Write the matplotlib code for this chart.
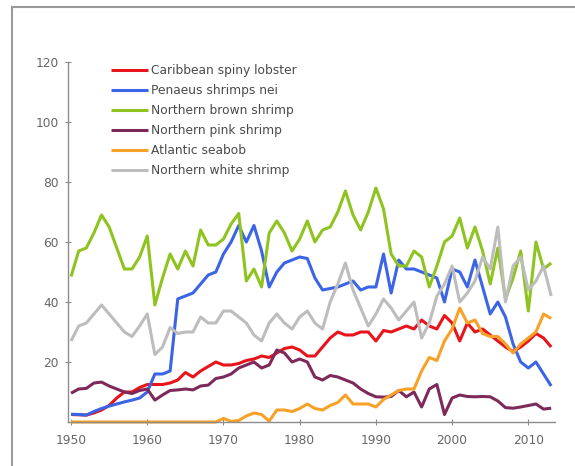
import matplotlib
matplotlib.use("Agg")
import matplotlib.pyplot as plt
from matplotlib.lines import Line2D

years = list(range(1950, 2014))

series_names = ["Caribbean spiny lobster", "Penaeus shrimps nei", "Northern brown shrimp",
                "Northern pink shrimp", "Atlantic seabob", "Northern white shrimp"]

caribbean_spiny_lobster = [
    2.5, 2.4, 2.3, 3, 4, 5.5, 8, 10, 10, 11.5,
    12.5, 12.5, 12.5, 13, 14, 16.5, 15, 17, 18.5, 20,
    19, 19, 19.5, 20.5, 21, 22, 21.5, 23, 24.5, 25,
    24, 22, 22, 25, 28, 30, 29, 29, 30, 30,
    27, 30.5, 30, 31, 32, 31, 34, 32, 31, 35.5,
    33, 27, 33, 30, 31, 29, 27, 25, 23.5, 25,
    27, 29.5, 28, 25]

penaeus_shrimps_nei = [
    2.6, 2.5, 2.3, 3.5, 4.5, 5.3, 6, 6.7, 7.3, 8,
    10, 16, 16, 17, 41, 42, 43, 46, 49, 50,
    56, 60, 65.5, 60, 65.5, 57, 45, 50, 53, 54,
    55, 54.5, 48, 44, 44.5, 45, 46, 47, 44, 45,
    45, 56, 43, 54, 51, 51, 50, 49, 48, 40,
    51, 50, 45, 54, 45, 36, 40, 35, 26, 20,
    18, 20, 16, 12]

northern_brown_shrimp = [
    48.5, 57, 58, 63, 69, 65, 58, 51, 51, 55,
    62, 39, 48, 56, 51, 57, 52, 64, 59, 59,
    61, 66, 69.5, 47, 51, 45, 63, 67, 63, 57,
    61, 67, 60, 64, 65, 70, 77, 69, 64, 70,
    78, 71, 56, 52, 52, 57, 55, 45, 52, 60,
    62, 68, 58, 65, 57, 46, 58, 41, 48, 57,
    37, 60, 51, 53]

northern_pink_shrimp = [
    9.6, 11, 11.2, 13, 13.3, 12, 11, 10, 9.5, 10.5,
    11, 7.3, 9, 10.5, 10.7, 11, 10.7, 12, 12.3, 14.5,
    15, 16, 18, 19, 20, 18, 19, 24, 23, 20,
    21, 20, 15, 14, 15.5, 15, 14, 13, 11, 9.5,
    8.4, 8.3, 8.5, 10.5, 8.4, 10, 5, 11, 12.5, 2.5,
    8, 9, 8.5, 8.4, 8.5, 8.4, 7, 4.8, 4.6, 5,
    5.5, 6, 4.3, 4.6]

atlantic_seabob = [
    0, 0, 0, 0, 0, 0, 0, 0, 0, 0,
    0, 0, 0, 0, 0, 0, 0, 0, 0, 0,
    1.2, 0.2, 0.5, 2, 3, 2.5, 0.3, 4, 4, 3.5,
    4.5, 6, 4.5, 4, 5.5, 6.5, 9, 6, 6, 6,
    5, 7.5, 9, 10.5, 11, 11, 17, 21.5, 20.5, 27,
    31, 38, 33, 34, 29.5, 28.5, 28.5, 26, 23, 26,
    28, 30, 36, 34.5]

northern_white_shrimp = [
    27, 32, 33, 36, 39, 36, 33, 30, 28.5, 32,
    36, 22.5, 25, 31.5, 29.5, 30, 30, 35, 33, 33,
    37, 37, 35, 33, 29, 27, 33, 36, 33, 31,
    35, 37, 33, 31, 40, 46, 53, 44, 38, 32,
    36, 41, 38, 34, 37, 40, 28, 33, 42, 46,
    52, 40, 43, 47, 55, 51, 65, 40, 52, 55,
    44, 47, 52, 42]

x_ticks = [1950, 1960, 1970, 1980, 1990, 2000, 2010]
y_ticks = [20, 40, 60, 80, 100, 120]

colors = ["#e8141b", "#3c64e6", "#8fc31f", "#7d2a5b", "#f7a128", "#bdbdbd"]
data = [caribbean_spiny_lobster, penaeus_shrimps_nei, northern_brown_shrimp,
        northern_pink_shrimp, atlantic_seabob, northern_white_shrimp]

W, H = 575, 466
fig = plt.figure(figsize=(W / 100, H / 100), dpi=100)
ax = fig.add_axes([68 / W, 44 / H, (555 - 68) / W, (422 - 62) / H])

for name, vals, c in zip(series_names, data, colors):
    ax.plot(years, vals, color=c, lw=2.2, label=name, clip_on=False,
            solid_joinstyle="round", solid_capstyle="butt")

ax.set_xlim(1949.6, 2013.5)
ax.set_ylim(0, 120)
ax.set_xticks(x_ticks)
ax.set_yticks(y_ticks)
for s in ["top", "right"]:
    ax.spines[s].set_visible(False)
for s in ["left", "bottom"]:
    ax.spines[s].set_color("#8c8c8c")
    ax.spines[s].set_linewidth(1.0)
ax.tick_params(axis="both", direction="inout", length=5, width=0.8, color="#8c8c8c",
               labelsize=8.8, labelcolor="#666666")
ax.tick_params(axis="y", pad=4)
ax.tick_params(axis="x", pad=6)

leg = ax.legend(loc="upper left", bbox_to_anchor=(111 / W, 1 - 64 / H),
                bbox_transform=fig.transFigure, frameon=False, fontsize=8.8,
                handlelength=3.0, handletextpad=0.25, labelspacing=0.58,
                borderpad=0, borderaxespad=0)
for t in leg.get_texts():
    t.set_color("#4a4a4a")

# outer frame (partially visible border)
fig.add_artist(Line2D([11.5 / W, 11.5 / W], [0, 1 - 7 / H], transform=fig.transFigure,
                      color="#9a9a9a", lw=1.5))
fig.add_artist(Line2D([11.5 / W, 1], [1 - 7 / H, 1 - 7 / H], transform=fig.transFigure,
                      color="#9a9a9a", lw=1.5))

fig.savefig("out.png", dpi=100)
